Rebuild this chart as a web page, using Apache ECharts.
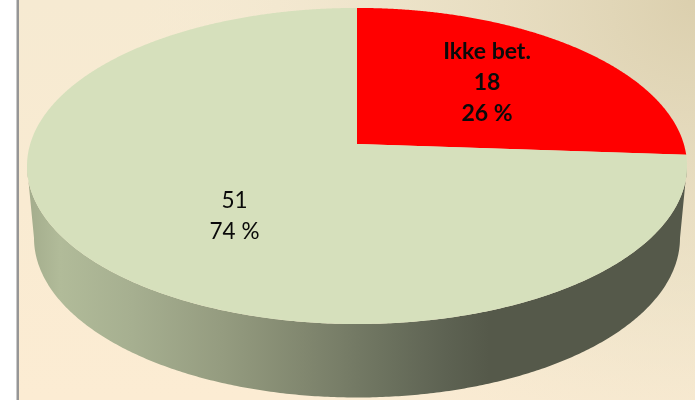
<!DOCTYPE html>
<html>
<head>
<meta charset="utf-8">
<style>html,body{margin:0;padding:0;background:#fff}#c{width:695px;height:400px}</style>
<script src="https://cdn.jsdelivr.net/npm/echarts@6/dist/echarts.min.js"></script>
</head>
<body>
<div id="c"></div>
<script>
const categories = ['Ikke bet.', ''];
const values = [18, 51];
const percents = ['26 %', '74 %'];

const W = 695, H = 400;
const cx = 357, cy = 144, A = 155, B = 326.8, K = 0.139;
const WALL = {cy: 238, rx: 323, ry: 159.5};
const SLICE_COLORS = ['#ff0000', '#d6e0bc'];
const LABEL_POS = [[487, 83], [234.5, 216]];
const LABEL_STYLE = [{fontWeight: 'bold', fontSize: 23}, {fontWeight: 'normal', fontSize: 22.5}];

function project(theta, r) {
  const u = r * Math.sin(theta), v = r * Math.cos(theta), d = 1 + K * v;
  return [cx + B * u / d, cy - A * v / d];
}

const total = values.reduce((a, b) => a + b, 0);

function wallShape() {
  // front edge of the top face, from its right extreme to its left extreme
  const tilt = Math.acos(-K);
  const pts = [];
  const end = 2 * Math.PI - tilt;
  for (let t = tilt; t < end; t += 0.01) pts.push(project(t, 1));
  pts.push(project(end, 1));
  const lower = [];
  for (let a = Math.PI; a >= 0; a -= 0.01) {
    lower.push([cx + WALL.rx * Math.cos(a), WALL.cy + WALL.ry * Math.sin(a)]);
  }
  return pts.concat(lower);
}

function renderItem(params, api) {
  const i = params.dataIndex;
  let before = 0;
  for (let j = 0; j < i; j++) before += values[j];
  const start = before / total * 2 * Math.PI;
  const sweep = api.value(0) / total * 2 * Math.PI;
  const pts = [[cx, cy]];
  const n = Math.ceil(sweep / 0.005);
  for (let s = 0; s <= n; s++) pts.push(project(start + sweep * s / n, 1));
  const children = [];
  if (i === 1) {
    children.push({
      type: 'polygon',
      shape: {points: wallShape()},
      style: {
        fill: new echarts.graphic.LinearGradient(27, 0, 687, 0, [
          {offset: 0, color: '#a3ac8c'},
          {offset: 0.05, color: '#b1bb99'},
          {offset: 0.16, color: '#a6af90'},
          {offset: 0.30, color: '#949b7f'},
          {offset: 0.42, color: '#81876f'},
          {offset: 0.53, color: '#6e7460'},
          {offset: 0.63, color: '#5e6353'},
          {offset: 0.70, color: '#55594a'},
          {offset: 1, color: '#55594a'}
        ], true)
      }
    });
  }
  children.push({
    type: 'polygon',
    shape: {points: pts},
    style: {fill: SLICE_COLORS[i]}
  });
  return {type: 'group', children: children, z2: i === 0 ? 2 : 1};
}

function renderLabels(params, api) {
  const i = params.dataIndex;
  const name = categories[i];
  const lines = (name ? [name] : []).concat([String(api.value(0)), percents[i]]);
  return {
    type: 'text',
    z2: 10,
    style: {
      x: LABEL_POS[i][0], y: LABEL_POS[i][1],
      text: lines.join('\n'),
      align: 'center', verticalAlign: 'middle',
      fontFamily: 'Lato, "Open Sans", sans-serif',
      fontSize: LABEL_STYLE[i].fontSize,
      fontWeight: LABEL_STYLE[i].fontWeight,
      lineHeight: 31,
      fill: '#0a0a0a'
    }
  };
}

const chart = echarts.init(document.getElementById('c'), null, {renderer: 'canvas', width: W, height: H});
chart.setOption({
  animation: false,
  backgroundColor: '#ffffff',
  graphic: [
    {type: 'rect', silent: true, z: -10, shape: {x: 16.5, y: 0, width: 2.5, height: H}, style: {fill: '#969696'}},
    {type: 'rect', silent: true, z: -10, shape: {x: 19, y: 0, width: W - 19, height: H},
      style: {fill: new echarts.graphic.LinearGradient(0, 0, 0, 1, [
        {offset: 0, color: '#f6ead2'},
        {offset: 0.5, color: '#f9ebd2'},
        {offset: 1, color: '#fcecd3'}
      ])}},
    {type: 'rect', silent: true, z: -9, shape: {x: 19, y: 0, width: W - 19, height: H},
      style: {fill: new echarts.graphic.RadialGradient(695, 0, 560, [
        {offset: 0, color: 'rgba(218,206,172,0.95)'},
        {offset: 0.5, color: 'rgba(228,220,192,0.6)'},
        {offset: 1, color: 'rgba(245,235,215,0)'}
      ], true)}}
  ],
  series: [
    {type: 'custom', coordinateSystem: 'none', silent: true, z: 2, renderItem: renderItem,
      data: values.map(v => [v]), clip: false},
    {type: 'custom', coordinateSystem: 'none', silent: true, z: 3, renderItem: renderLabels,
      data: values.map(v => [v])}
  ]
});
</script>
</body>
</html>
